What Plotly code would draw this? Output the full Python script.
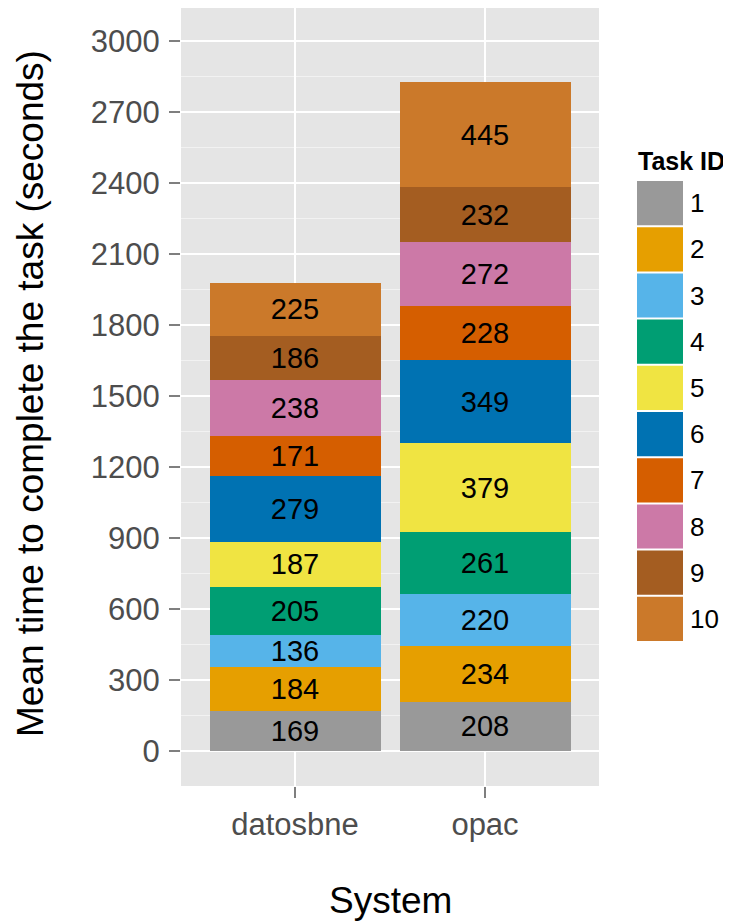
import plotly.graph_objects as go

systems = ["datosbne", "opac"]
task_ids = ["1", "2", "3", "4", "5", "6", "7", "8", "9", "10"]
datosbne_times = [169, 184, 136, 205, 187, 279, 171, 238, 186, 225]
opac_times = [208, 234, 220, 261, 379, 349, 228, 272, 232, 445]
task_colors = ["#999999", "#E69F00", "#56B4E9", "#009E73", "#F0E442",
               "#0072B2", "#D55E00", "#CC79A7", "#A45D21", "#CB792A"]
y_ticks = [0, 300, 600, 900, 1200, 1500, 1800, 2100, 2400, 2700, 3000]

FONT = "Liberation Sans, Arial, sans-serif"
OFF = 8  # page body margin
W, H = 731 - OFF, 923 - OFF
# plot area in window pixels: x 181..599, y 6..786
PL, PR, PB = 181, 599, 786
ML, MR, MT, MB = PL - OFF, W - (PR - OFF), 0, H - (PB - OFF)

fig = go.Figure()
for i, tid in enumerate(task_ids):
    vals = [datosbne_times[i], opac_times[i]]
    fig.add_trace(go.Bar(
        x=systems, y=vals, name=tid, width=0.9,
        marker=dict(color=task_colors[i], line=dict(width=0)),
        text=[str(v) for v in vals], textposition="inside",
        insidetextanchor="middle", textangle=0,
        textfont=dict(size=29, color="black", family=FONT),
        showlegend=False,
    ))

# convert window pixel -> paper coords
def px_x(x):
    return (x - OFF - ML) / (W - ML - MR)
def px_y(y):
    return 1 - (y - OFF - MT) / (H - MT - MB)

# y range: zero at y=750.7, 3000 at y=41.3 (window px)
y0px, y3000px = 750.7, 41.3
ppu = (y0px - y3000px) / 3000.0
ytop = (y0px - (OFF + MT)) / ppu
ybot = -((H - MB + OFF) - y0px) / ppu

key_x0, key_x1 = 637, 683
key_top, key_h = 180, 46.2
shapes = []
annotations = []
for i, tid in enumerate(task_ids):
    k0 = key_top + i * key_h
    shapes.append(dict(type="rect", xref="paper", yref="paper",
                       x0=px_x(key_x0), x1=px_x(key_x1),
                       y0=px_y(k0 + 1), y1=px_y(k0 + key_h - 1),
                       fillcolor=task_colors[i], line=dict(width=0)))
    annotations.append(dict(x=px_x(688), y=px_y(k0 + key_h / 2), xref="paper", yref="paper",
                            text=tid, showarrow=False, xanchor="left", yanchor="middle",
                            font=dict(size=26, color="black", family=FONT)))
annotations.append(dict(x=px_x(636), y=px_y(161), xref="paper", yref="paper",
                        text="<b>Task ID</b>", showarrow=False, xanchor="left", yanchor="middle",
                        font=dict(size=25, color="black", family=FONT)))
annotations.append(dict(x=px_x(390), y=px_y(900), xref="paper", yref="paper",
                        text="System", showarrow=False, xanchor="center", yanchor="middle",
                        font=dict(size=37, color="black", family=FONT)))
annotations.append(dict(x=px_x(30), y=px_y(394), xref="paper", yref="paper",
                        text="Mean time to complete the task (seconds)", textangle=-90,
                        showarrow=False, xanchor="center", yanchor="middle",
                        font=dict(size=37, color="black", family=FONT)))

fig.update_layout(
    width=W, height=H,
    margin=dict(l=ML, r=MR, t=MT, b=MB, pad=0),
    paper_bgcolor="white", plot_bgcolor="#E5E5E5",
    barmode="stack",
    shapes=shapes, annotations=annotations,
    uniformtext=dict(minsize=29, mode="show"),
    font=dict(family=FONT),
)
fig.update_xaxes(
    range=[-0.6, 1.6], showgrid=True, gridcolor="white", gridwidth=2,
    ticks="outside", ticklen=11, tickwidth=2, tickcolor="#7F7F7F",
    tickfont=dict(size=31, color="#4D4D4D", family=FONT),
    showline=False, zeroline=False, fixedrange=True,
)
fig.update_yaxes(
    range=[ybot, ytop], tickvals=y_ticks, ticktext=[str(v) for v in y_ticks],
    showgrid=True, gridcolor="white", gridwidth=2,
    minor=dict(tickvals=[v + 150 for v in y_ticks[:-1]] + [-150, 3150], showgrid=True,
               gridcolor="#F2F2F2", gridwidth=1, ticks=""),
    ticks="outside", ticklen=11, tickwidth=2, tickcolor="#7F7F7F",
    tickfont=dict(size=31, color="#4D4D4D", family=FONT),
    ticklabelstandoff=3,
    showline=False, zeroline=False, fixedrange=True,
)

fig.write_html("out.html")
